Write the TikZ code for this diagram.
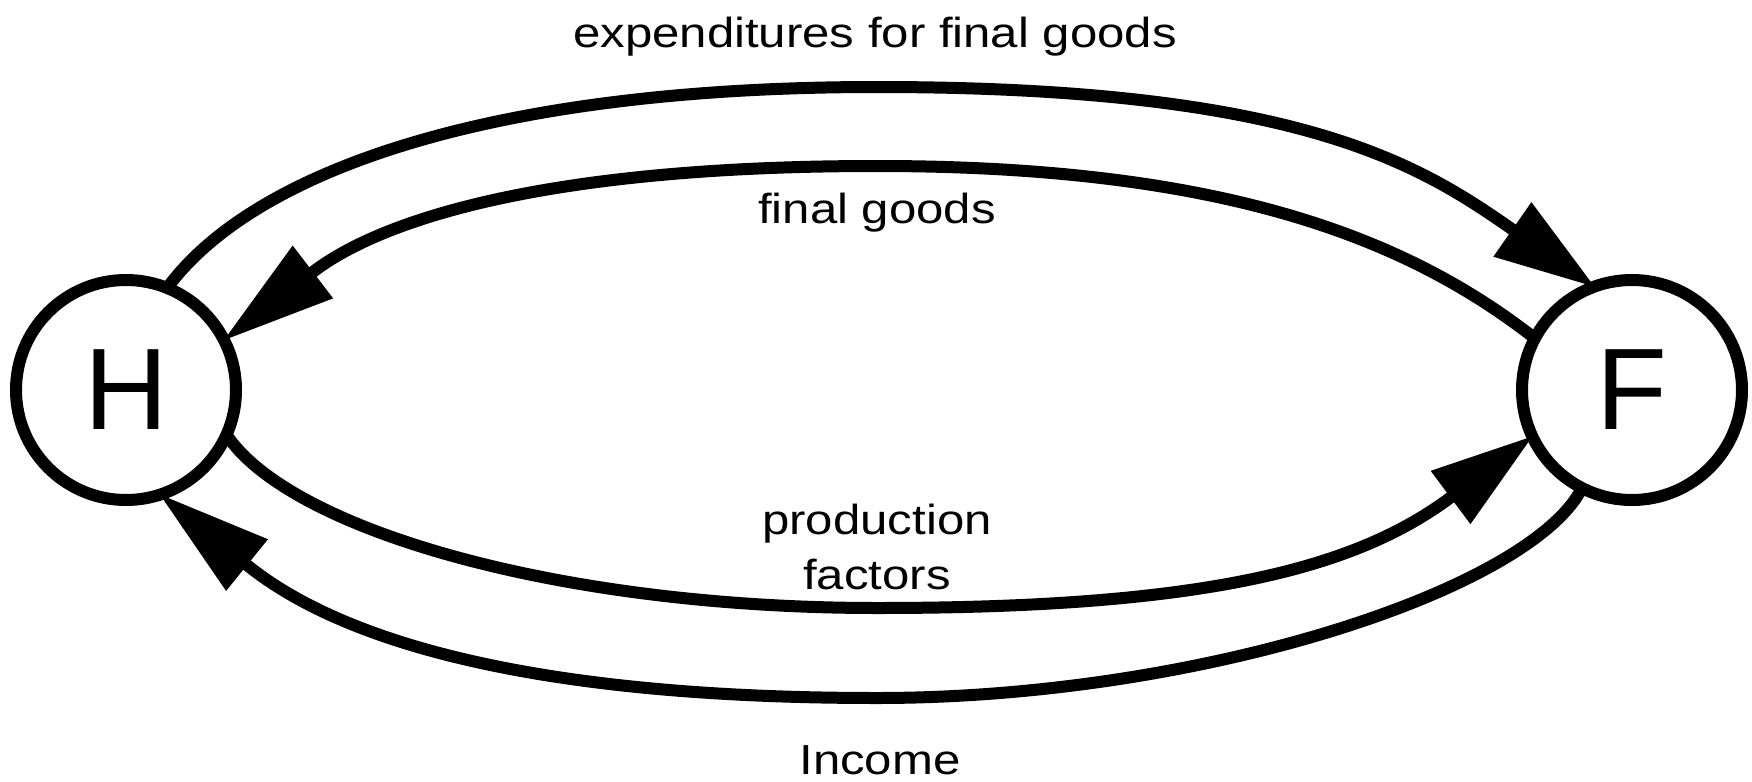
\documentclass[tikz,border=0pt]{standalone}
\usepackage{fontspec}
\setmainfont{Liberation Sans}
\newfontfamily\labelfont{Liberation Sans}[FakeStretch=1.17]
\usetikzlibrary{arrows.meta}
\begin{document}
\begin{tikzpicture}[x=0.5pt,y=-0.5pt,
  agent/.style={circle, draw, line width=6pt, minimum size=110pt, inner sep=0pt, outer sep=0pt,
    font=\fontsize{58}{58}\selectfont},
  flow/.style={line width=6pt},
  lbl/.style={anchor=base, inner sep=0pt, font=\labelfont\fontsize{21}{24}\selectfont}]
\useasboundingbox (0,0) rectangle (1752,782);
\node[agent] (H) at (126,390) {H};
\node[agent] (F) at (1632,390) {F};
% expenditures for final goods (H -> F, top outer)
\draw[flow, -{Triangle[length=50pt,width=33pt,line width=1pt]}]
  (H.68) .. controls (250,175) and (480,87) .. (877,87)
  .. controls (1300,87) and (1420,165) .. (F.110);
% final goods (F -> H, top inner)
\draw[flow, -{Triangle[length=56pt,width=33pt,line width=1pt]}]
  (F.152) .. controls (1409,240) and (1227,166) .. (877,166)
  .. controls (547,166) and (382,219) .. (H.27);
% production factors (H -> F, bottom inner)
\draw[flow, -{Triangle[length=51pt,width=33pt,line width=1pt]}]
  (H.-24) .. controls (290,530) and (560,608) .. (877,608)
  .. controls (1207,608) and (1356,568) .. (F.205);
% income (F -> H, bottom outer)
\draw[flow, -{Triangle[length=56pt,width=33pt,line width=1pt]}]
  (F.243) .. controls (1530,590) and (1200,698) .. (877,698)
  .. controls (547,698) and (347,646) .. (H.-72);
\node[lbl] (t1) at (875,47) {expenditures for final goods};
\node[lbl] (t2) at (877,223) {final goods};
\node[lbl] (t3) at (877,534) {production};
\node[lbl] (t4) at (877,589) {factors};
\node[lbl] (t5) at (880,774) {Income};
\end{tikzpicture}
\end{document}
